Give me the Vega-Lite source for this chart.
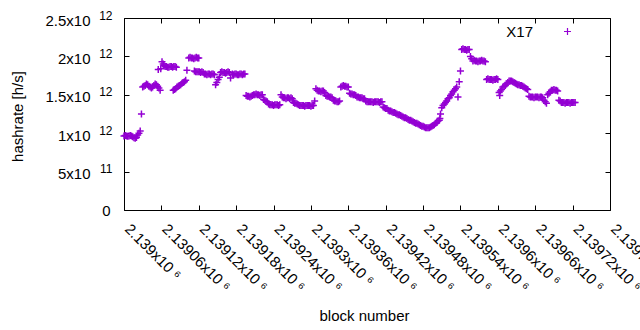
{
"$schema": "https://vega.github.io/schema/vega-lite/v6.json",
"width": 486, "height": 192,
"autosize": {"type": "none"},
"padding": {"left": 124, "top": 18, "right": 30, "bottom": 120},
"background": "white",
"config": {
  "view": {"stroke": "#000", "strokeWidth": 1},
  "font": "Liberation Sans",
  "axis": {"grid": false, "domain": false, "labelFont": "Liberation Sans", "titleFont": "Liberation Sans", "labelColor": "#000", "titleColor": "#000", "tickColor": "#000", "labelFontSize": 15, "titleFontSize": 15, "titleFontWeight": "normal", "labelOverlap": false, "labelFlush": false, "labelBound": false}
},
"data": {"values": [
{"block":2139000,"hashrate":9.65e11},{"block":2139002,"hashrate":9.7e11},{"block":2139004,"hashrate":9.65e11},{"block":2139006,"hashrate":9.6e11},{"block":2139008,"hashrate":9.65e11},{"block":2139010,"hashrate":9.7e11},{"block":2139012,"hashrate":9.65e11},{"block":2139014,"hashrate":9.55e11},{"block":2139016,"hashrate":9.4e11},{"block":2139018,"hashrate":9.35e11},{"block":2139020,"hashrate":9.45e11},{"block":2139022,"hashrate":9.75e11},{"block":2139024,"hashrate":1.0e12},{"block":2139026,"hashrate":1.03e12},{"block":2139028,"hashrate":1.25e12},
{"block":2139030,"hashrate":1.6e12},{"block":2139032,"hashrate":1.61e12},{"block":2139034,"hashrate":1.62e12},{"block":2139036,"hashrate":1.64e12},{"block":2139038,"hashrate":1.63e12},{"block":2139040,"hashrate":1.61e12},{"block":2139042,"hashrate":1.6e12},{"block":2139044,"hashrate":1.59e12},{"block":2139046,"hashrate":1.6e12},{"block":2139048,"hashrate":1.62e12},{"block":2139050,"hashrate":1.64e12},{"block":2139052,"hashrate":1.63e12},{"block":2139054,"hashrate":1.61e12},{"block":2139056,"hashrate":1.59e12},{"block":2139058,"hashrate":1.56e12},
{"block":2139055,"hashrate":1.83e12},{"block":2139059,"hashrate":1.84e12},{"block":2139061,"hashrate":1.93e12},{"block":2139063,"hashrate":1.9e12},{"block":2139064,"hashrate":1.88e12},{"block":2139066,"hashrate":1.87e12},{"block":2139068,"hashrate":1.87e12},{"block":2139070,"hashrate":1.86e12},{"block":2139072,"hashrate":1.86e12},{"block":2139074,"hashrate":1.87e12},{"block":2139076,"hashrate":1.87e12},{"block":2139078,"hashrate":1.86e12},{"block":2139080,"hashrate":1.87e12},{"block":2139082,"hashrate":1.87e12},{"block":2139084,"hashrate":1.86e12},
{"block":2139079,"hashrate":1.56e12},{"block":2139081,"hashrate":1.57e12},{"block":2139083,"hashrate":1.58e12},{"block":2139085,"hashrate":1.6e12},{"block":2139087,"hashrate":1.61e12},{"block":2139089,"hashrate":1.62e12},{"block":2139091,"hashrate":1.63e12},{"block":2139093,"hashrate":1.65e12},{"block":2139095,"hashrate":1.66e12},{"block":2139097,"hashrate":1.67e12},{"block":2139099,"hashrate":1.69e12},{"block":2139101,"hashrate":1.82e12},
{"block":2139104,"hashrate":1.98e12},{"block":2139106,"hashrate":1.99e12},{"block":2139108,"hashrate":1.98e12},{"block":2139110,"hashrate":1.98e12},{"block":2139112,"hashrate":1.97e12},{"block":2139114,"hashrate":1.98e12},{"block":2139116,"hashrate":1.99e12},{"block":2139118,"hashrate":1.98e12},{"block":2139120,"hashrate":1.98e12},
{"block":2139113,"hashrate":1.81e12},{"block":2139115,"hashrate":1.8e12},{"block":2139117,"hashrate":1.8e12},{"block":2139119,"hashrate":1.8e12},{"block":2139121,"hashrate":1.8e12},{"block":2139123,"hashrate":1.79e12},{"block":2139125,"hashrate":1.8e12},{"block":2139127,"hashrate":1.79e12},
{"block":2139129,"hashrate":1.77e12},{"block":2139131,"hashrate":1.77e12},{"block":2139133,"hashrate":1.76e12},{"block":2139135,"hashrate":1.77e12},{"block":2139137,"hashrate":1.77e12},{"block":2139139,"hashrate":1.76e12},{"block":2139141,"hashrate":1.77e12},{"block":2139143,"hashrate":1.77e12},{"block":2139145,"hashrate":1.76e12},
{"block":2139147,"hashrate":1.63e12},{"block":2139149,"hashrate":1.66e12},{"block":2139151,"hashrate":1.7e12},{"block":2139153,"hashrate":1.73e12},
{"block":2139155,"hashrate":1.79e12},{"block":2139157,"hashrate":1.8e12},{"block":2139159,"hashrate":1.79e12},{"block":2139161,"hashrate":1.79e12},{"block":2139163,"hashrate":1.78e12},{"block":2139165,"hashrate":1.79e12},{"block":2139167,"hashrate":1.8e12},{"block":2139169,"hashrate":1.79e12},{"block":2139171,"hashrate":1.72e12},
{"block":2139174,"hashrate":1.77e12},{"block":2139176,"hashrate":1.76e12},{"block":2139178,"hashrate":1.77e12},{"block":2139180,"hashrate":1.77e12},{"block":2139182,"hashrate":1.76e12},{"block":2139184,"hashrate":1.76e12},{"block":2139186,"hashrate":1.77e12},{"block":2139188,"hashrate":1.77e12},{"block":2139190,"hashrate":1.76e12},{"block":2139192,"hashrate":1.77e12},{"block":2139194,"hashrate":1.77e12},
{"block":2139196,"hashrate":1.49e12},{"block":2139198,"hashrate":1.48e12},{"block":2139200,"hashrate":1.48e12},{"block":2139202,"hashrate":1.47e12},{"block":2139204,"hashrate":1.48e12},{"block":2139206,"hashrate":1.49e12},
{"block":2139208,"hashrate":1.5e12},{"block":2139210,"hashrate":1.5e12},{"block":2139212,"hashrate":1.51e12},{"block":2139214,"hashrate":1.5e12},{"block":2139216,"hashrate":1.5e12},{"block":2139218,"hashrate":1.49e12},{"block":2139220,"hashrate":1.5e12},{"block":2139222,"hashrate":1.5e12},
{"block":2139224,"hashrate":1.44e12},{"block":2139226,"hashrate":1.43e12},{"block":2139228,"hashrate":1.42e12},{"block":2139230,"hashrate":1.41e12},
{"block":2139232,"hashrate":1.38e12},{"block":2139234,"hashrate":1.37e12},{"block":2139236,"hashrate":1.37e12},{"block":2139238,"hashrate":1.37e12},{"block":2139240,"hashrate":1.36e12},{"block":2139242,"hashrate":1.37e12},{"block":2139244,"hashrate":1.37e12},{"block":2139246,"hashrate":1.37e12},{"block":2139248,"hashrate":1.36e12},{"block":2139250,"hashrate":1.37e12},
{"block":2139252,"hashrate":1.5e12},{"block":2139254,"hashrate":1.47e12},{"block":2139256,"hashrate":1.46e12},{"block":2139258,"hashrate":1.46e12},{"block":2139260,"hashrate":1.45e12},{"block":2139262,"hashrate":1.46e12},{"block":2139264,"hashrate":1.46e12},{"block":2139266,"hashrate":1.45e12},{"block":2139268,"hashrate":1.46e12},{"block":2139270,"hashrate":1.45e12},
{"block":2139272,"hashrate":1.4e12},{"block":2139274,"hashrate":1.39e12},{"block":2139276,"hashrate":1.39e12},{"block":2139278,"hashrate":1.38e12},
{"block":2139280,"hashrate":1.37e12},{"block":2139282,"hashrate":1.36e12},{"block":2139284,"hashrate":1.36e12},{"block":2139286,"hashrate":1.36e12},{"block":2139288,"hashrate":1.36e12},{"block":2139290,"hashrate":1.35e12},{"block":2139292,"hashrate":1.36e12},{"block":2139294,"hashrate":1.36e12},{"block":2139296,"hashrate":1.36e12},{"block":2139298,"hashrate":1.36e12},{"block":2139300,"hashrate":1.35e12},{"block":2139302,"hashrate":1.36e12},{"block":2139304,"hashrate":1.36e12},
{"block":2139306,"hashrate":1.42e12},{"block":2139308,"hashrate":1.58e12},{"block":2139310,"hashrate":1.56e12},{"block":2139312,"hashrate":1.55e12},{"block":2139314,"hashrate":1.55e12},{"block":2139316,"hashrate":1.54e12},{"block":2139318,"hashrate":1.55e12},{"block":2139320,"hashrate":1.55e12},{"block":2139322,"hashrate":1.53e12},
{"block":2139324,"hashrate":1.49e12},{"block":2139326,"hashrate":1.48e12},{"block":2139328,"hashrate":1.48e12},{"block":2139330,"hashrate":1.47e12},{"block":2139332,"hashrate":1.47e12},{"block":2139334,"hashrate":1.46e12},
{"block":2139336,"hashrate":1.43e12},{"block":2139338,"hashrate":1.42e12},{"block":2139340,"hashrate":1.42e12},{"block":2139342,"hashrate":1.41e12},{"block":2139344,"hashrate":1.41e12},{"block":2139346,"hashrate":1.42e12},
{"block":2139348,"hashrate":1.6e12},{"block":2139350,"hashrate":1.61e12},{"block":2139352,"hashrate":1.62e12},{"block":2139354,"hashrate":1.61e12},{"block":2139356,"hashrate":1.61e12},{"block":2139358,"hashrate":1.6e12},{"block":2139360,"hashrate":1.6e12},
{"block":2139362,"hashrate":1.52e12},{"block":2139364,"hashrate":1.51e12},{"block":2139366,"hashrate":1.51e12},{"block":2139368,"hashrate":1.5e12},{"block":2139370,"hashrate":1.5e12},{"block":2139372,"hashrate":1.49e12},
{"block":2139374,"hashrate":1.47e12},{"block":2139376,"hashrate":1.47e12},{"block":2139378,"hashrate":1.46e12},{"block":2139380,"hashrate":1.46e12},{"block":2139382,"hashrate":1.46e12},{"block":2139384,"hashrate":1.45e12},{"block":2139386,"hashrate":1.45e12},
{"block":2139388,"hashrate":1.42e12},{"block":2139390,"hashrate":1.41e12},{"block":2139392,"hashrate":1.41e12},{"block":2139394,"hashrate":1.41e12},{"block":2139396,"hashrate":1.41e12},{"block":2139398,"hashrate":1.41e12},{"block":2139400,"hashrate":1.4e12},{"block":2139402,"hashrate":1.41e12},{"block":2139404,"hashrate":1.41e12},{"block":2139406,"hashrate":1.41e12},{"block":2139408,"hashrate":1.41e12},{"block":2139410,"hashrate":1.4e12},{"block":2139412,"hashrate":1.41e12},{"block":2139414,"hashrate":1.41e12},
{"block":2139416,"hashrate":1.34e12},{"block":2139418,"hashrate":1.33e12},{"block":2139420,"hashrate":1.32e12},{"block":2139422,"hashrate":1.32e12},
{"block":2139424,"hashrate":1.3e12},{"block":2139426,"hashrate":1.29e12},{"block":2139428,"hashrate":1.29e12},{"block":2139430,"hashrate":1.28e12},{"block":2139432,"hashrate":1.27e12},{"block":2139434,"hashrate":1.27e12},{"block":2139436,"hashrate":1.26e12},{"block":2139438,"hashrate":1.25e12},{"block":2139440,"hashrate":1.24e12},{"block":2139442,"hashrate":1.24e12},{"block":2139444,"hashrate":1.23e12},{"block":2139446,"hashrate":1.22e12},{"block":2139448,"hashrate":1.21e12},{"block":2139450,"hashrate":1.2e12},{"block":2139452,"hashrate":1.2e12},{"block":2139454,"hashrate":1.19e12},{"block":2139456,"hashrate":1.18e12},{"block":2139458,"hashrate":1.17e12},{"block":2139460,"hashrate":1.17e12},{"block":2139462,"hashrate":1.16e12},{"block":2139464,"hashrate":1.15e12},{"block":2139466,"hashrate":1.14e12},{"block":2139468,"hashrate":1.13e12},{"block":2139470,"hashrate":1.13e12},{"block":2139472,"hashrate":1.12e12},{"block":2139474,"hashrate":1.11e12},{"block":2139476,"hashrate":1.1e12},{"block":2139478,"hashrate":1.09e12},{"block":2139480,"hashrate":1.09e12},{"block":2139482,"hashrate":1.08e12},{"block":2139484,"hashrate":1.07e12},{"block":2139486,"hashrate":1.07e12},{"block":2139488,"hashrate":1.07e12},{"block":2139490,"hashrate":1.07e12},{"block":2139492,"hashrate":1.08e12},{"block":2139494,"hashrate":1.09e12},{"block":2139496,"hashrate":1.1e12},{"block":2139498,"hashrate":1.11e12},{"block":2139500,"hashrate":1.13e12},{"block":2139502,"hashrate":1.14e12},{"block":2139504,"hashrate":1.16e12},{"block":2139506,"hashrate":1.17e12},{"block":2139507,"hashrate":1.19e12},{"block":2139508,"hashrate":1.25e12},{"block":2139510,"hashrate":1.33e12},{"block":2139512,"hashrate":1.36e12},{"block":2139514,"hashrate":1.38e12},{"block":2139516,"hashrate":1.4e12},{"block":2139518,"hashrate":1.42e12},{"block":2139520,"hashrate":1.45e12},{"block":2139522,"hashrate":1.46e12},{"block":2139524,"hashrate":1.49e12},{"block":2139526,"hashrate":1.51e12},{"block":2139528,"hashrate":1.54e12},{"block":2139530,"hashrate":1.56e12},{"block":2139532,"hashrate":1.58e12},{"block":2139534,"hashrate":1.6e12},{"block":2139536,"hashrate":1.47e12},{"block":2139538,"hashrate":1.67e12},{"block":2139540,"hashrate":1.81e12},
{"block":2139542,"hashrate":2.09e12},{"block":2139544,"hashrate":2.1e12},{"block":2139546,"hashrate":2.09e12},{"block":2139548,"hashrate":2.09e12},{"block":2139550,"hashrate":2.08e12},{"block":2139552,"hashrate":2.09e12},{"block":2139554,"hashrate":2.09e12},{"block":2139556,"hashrate":2.0e12},{"block":2139558,"hashrate":1.97e12},
{"block":2139560,"hashrate":1.94e12},{"block":2139562,"hashrate":1.95e12},{"block":2139564,"hashrate":1.94e12},{"block":2139566,"hashrate":1.94e12},{"block":2139568,"hashrate":1.93e12},{"block":2139570,"hashrate":1.94e12},{"block":2139572,"hashrate":1.94e12},{"block":2139574,"hashrate":1.95e12},{"block":2139576,"hashrate":1.94e12},{"block":2139578,"hashrate":1.94e12},{"block":2139580,"hashrate":1.93e12},
{"block":2139582,"hashrate":1.7e12},{"block":2139584,"hashrate":1.71e12},{"block":2139586,"hashrate":1.7e12},{"block":2139588,"hashrate":1.7e12},{"block":2139590,"hashrate":1.7e12},{"block":2139592,"hashrate":1.69e12},{"block":2139594,"hashrate":1.7e12},{"block":2139596,"hashrate":1.7e12},{"block":2139598,"hashrate":1.71e12},{"block":2139600,"hashrate":1.7e12},
{"block":2139602,"hashrate":1.53e12},{"block":2139603,"hashrate":1.49e12},{"block":2139604,"hashrate":1.55e12},{"block":2139606,"hashrate":1.57e12},{"block":2139608,"hashrate":1.6e12},{"block":2139610,"hashrate":1.61e12},{"block":2139612,"hashrate":1.62e12},{"block":2139614,"hashrate":1.64e12},{"block":2139616,"hashrate":1.66e12},{"block":2139618,"hashrate":1.68e12},{"block":2139620,"hashrate":1.68e12},{"block":2139622,"hashrate":1.68e12},{"block":2139624,"hashrate":1.67e12},{"block":2139626,"hashrate":1.66e12},{"block":2139628,"hashrate":1.65e12},{"block":2139630,"hashrate":1.64e12},{"block":2139632,"hashrate":1.63e12},{"block":2139634,"hashrate":1.63e12},{"block":2139636,"hashrate":1.62e12},{"block":2139638,"hashrate":1.62e12},{"block":2139640,"hashrate":1.61e12},{"block":2139642,"hashrate":1.6e12},{"block":2139644,"hashrate":1.59e12},{"block":2139646,"hashrate":1.58e12},{"block":2139648,"hashrate":1.57e12},
{"block":2139650,"hashrate":1.48e12},{"block":2139652,"hashrate":1.47e12},{"block":2139654,"hashrate":1.47e12},{"block":2139656,"hashrate":1.47e12},{"block":2139658,"hashrate":1.46e12},{"block":2139660,"hashrate":1.47e12},{"block":2139662,"hashrate":1.47e12},{"block":2139664,"hashrate":1.47e12},{"block":2139666,"hashrate":1.46e12},{"block":2139668,"hashrate":1.47e12},{"block":2139670,"hashrate":1.47e12},{"block":2139672,"hashrate":1.46e12},
{"block":2139674,"hashrate":1.43e12},{"block":2139676,"hashrate":1.41e12},{"block":2139678,"hashrate":1.39e12},{"block":2139680,"hashrate":1.5e12},{"block":2139682,"hashrate":1.52e12},{"block":2139684,"hashrate":1.54e12},{"block":2139686,"hashrate":1.56e12},{"block":2139688,"hashrate":1.56e12},{"block":2139690,"hashrate":1.57e12},{"block":2139692,"hashrate":1.56e12},{"block":2139694,"hashrate":1.56e12},{"block":2139696,"hashrate":1.55e12},
{"block":2139698,"hashrate":1.43e12},{"block":2139700,"hashrate":1.42e12},{"block":2139702,"hashrate":1.4e12},{"block":2139704,"hashrate":1.4e12},{"block":2139706,"hashrate":1.4e12},{"block":2139708,"hashrate":1.39e12},{"block":2139710,"hashrate":1.4e12},{"block":2139712,"hashrate":1.4e12},{"block":2139714,"hashrate":1.4e12},{"block":2139716,"hashrate":1.39e12},{"block":2139718,"hashrate":1.4e12},{"block":2139720,"hashrate":1.4e12},{"block":2139722,"hashrate":1.4e12},{"block":2139724,"hashrate":1.4e12}
]},
"layer": [
  {
    "mark": {"type": "point", "shape": "M-1,0H1M0,-1V1", "filled": false, "size": 49, "strokeWidth": 1.5, "opacity": 1},
    "encoding": {
      "x": {"field": "block", "type": "quantitative",
        "scale": {"domain": [2139000, 2139780], "nice": false, "zero": false},
        "axis": {"orient": "bottom", "values": [2139000,2139060,2139120,2139180,2139240,2139300,2139360,2139420,2139480,2139540,2139600,2139660,2139720,2139780],
          "tickSize": -5, "labelAngle": 45, "labelAlign": "left", "labelBaseline": "middle", "labelPadding": 21, "labelOffset": 3,
          "labelExpr": "format(datum.value/1e6, '.7~g') + 'x10 ⁶'",
          "title": "block number", "titleX": 240, "titleY": 105, "titleBaseline": "middle", "titleAlign": "center"}},
      "y": {"field": "hashrate", "type": "quantitative",
        "scale": {"domain": [0, 2.5e12], "nice": false},
        "axis": {"orient": "left", "values": [5e11, 1e12, 1.5e12, 2e12, 2.5e12], "ticks": false,
          "labelPadding": 34, "labelOffset": 2,
          "labelExpr": "datum.value < 1e12 ? format(datum.value/1e11, '~g') + 'x10' : format(datum.value/1e12, '~g') + 'x10'",
          "title": "hashrate [h/s]", "titleX": -107, "titleY": 98, "titleAngle": -90, "titleBaseline": "middle", "titleAlign": "center"}},
      "color": {"datum": "X17", "type": "nominal", "scale": {"range": ["#9400d3"]},
        "legend": {"orient": "none", "legendX": 436, "legendY": 6, "title": null, "padding": 0,
          "symbolType": "M-1,0H1M0,-1V1", "symbolSize": 49, "symbolStrokeWidth": 1.2, "symbolFillColor": "transparent", "symbolStrokeColor": "#9400d3",
          "labelFont": "Liberation Sans", "labelFontSize": 15, "labelColor": "#000", "labelAlign": "right", "labelOffset": -42}}
    }
  },
  {
    "mark": {"type": "point", "opacity": 0},
    "encoding": {
      "x": {"field": "block", "type": "quantitative",
        "axis": {"orient": "top", "values": [2139000,2139060,2139120,2139180,2139240,2139300,2139360,2139420,2139480,2139540,2139600,2139660,2139720,2139780], "tickSize": -5, "labels": false, "title": null}},
      "y": {"field": "hashrate", "type": "quantitative",
        "axis": {"orient": "left", "values": [5e11, 1e12, 1.5e12, 2e12, 2.5e12], "ticks": false, "labelPadding": 12, "labelOffset": -3, "labelFontSize": 12,
          "labelExpr": "datum.value < 1e12 ? '11' : '12'", "title": null}}
    }
  },
  {
    "mark": {"type": "point", "opacity": 0},
    "encoding": {
      "x": {"field": "block", "type": "quantitative", "axis": null},
      "y": {"field": "hashrate", "type": "quantitative",
        "axis": {"orient": "right", "values": [0, 5e11, 1e12, 1.5e12, 2e12, 2.5e12], "tickSize": -5, "labels": false, "title": null}}
    }
  },
  {
    "mark": {"type": "point", "opacity": 0},
    "encoding": {
      "x": {"field": "block", "type": "quantitative", "axis": null},
      "y": {"field": "hashrate", "type": "quantitative",
        "axis": {"orient": "left", "values": [0, 5e11, 1e12, 1.5e12, 2e12, 2.5e12], "tickSize": -5, "labelPadding": 19,
          "labelExpr": "datum.value == 0 ? '0' : ''", "title": null}}
    }
  }
],
"resolve": {"axis": {"x": "independent", "y": "independent"}}
}
